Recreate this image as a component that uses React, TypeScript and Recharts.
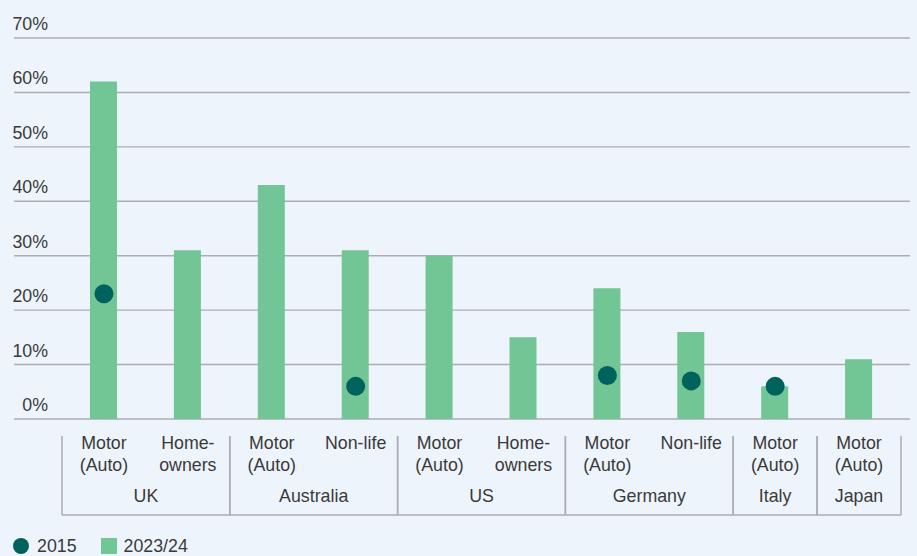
import { ComposedChart, Bar, Line, XAxis, YAxis, CartesianGrid } from 'recharts'

const lines1 = ['Motor', 'Home-', 'Motor', 'Non-life', 'Motor', 'Home-', 'Motor', 'Non-life', 'Motor', 'Motor']
const lines2 = ['(Auto)', 'owners', '(Auto)', '', '(Auto)', 'owners', '(Auto)', '', '(Auto)', '(Auto)']
const countries = ['UK', 'UK', 'Australia', 'Australia', 'US', 'US', 'Germany', 'Germany', 'Italy', 'Japan']
const share2023 = [62, 31, 43, 31, 30, 15, 24, 16, 6, 11]
const share2015: (number | null)[] = [23, null, null, 6, null, null, 8, 7, 6, null]
const yTicks = [0, 10, 20, 30, 40, 50, 60, 70]

const W = 917
const H = 530
const M = { top: 38, right: 7, left: 14, bottom: 0 }
const PAD = { left: 48, right: 9 }
const BAND = (W - M.left - M.right - PAD.left - PAD.right) / share2023.length

const BAR = '#72c594'
const DOT = '#00625d'
const BG = '#eef4fc'
const LINE = '#abadb4'
const TEXT = '#3a3a3a'
const FONT = '"Liberation Sans", Arial, sans-serif'
const FS = 17.8

const data = share2023.map((v, i) => ({
  key: `${countries[i]}-${i}`,
  y2023: v,
  y2015: share2015[i],
}))

function XTick({ x, y, payload }: any) {
  const i = payload.index ?? data.findIndex(d => d.key === payload.value)
  const c = countries[i]
  const first = i === 0 || countries[i - 1] !== c
  let size = 1
  while (first && countries[i + size] === c) size++
  const x0 = x - BAND / 2
  const x1 = x0 + size * BAND
  return (
    <g>
      <text x={x} y={y + 30} textAnchor="middle" fill={TEXT} fontSize={FS} fontFamily={FONT}>
        {lines1[i]}
      </text>
      <text x={x} y={y + 52} textAnchor="middle" fill={TEXT} fontSize={FS} fontFamily={FONT}>
        {lines2[i]}
      </text>
      {first && (
        <g>
          <line x1={x0} x2={x0} y1={y + 17} y2={y + 96} stroke={LINE} strokeWidth={1.5} />
          <line x1={x1} x2={x1} y1={y + 17} y2={y + 96} stroke={LINE} strokeWidth={1.5} />
          <line x1={x0} x2={x1} y1={y + 96} y2={y + 96} stroke={LINE} strokeWidth={1.5} />
          <text x={(x0 + x1) / 2} y={y + 83} textAnchor="middle" fill={TEXT} fontSize={FS} fontFamily={FONT}>
            {c}
          </text>
        </g>
      )}
    </g>
  )
}

function Dot({ cx, cy, value, index }: any) {
  if (value == null || cy == null) return <g key={`d${index}`} />
  return <circle key={`d${index}`} cx={cx} cy={cy} r={9.5} fill={DOT} />
}

export default function App() {
  return (
    <div style={{ position: 'absolute', left: 0, top: 0, width: W, height: 556, background: BG, fontFamily: FONT }}>
      <ComposedChart width={W} height={H} data={data} margin={M}>
        <CartesianGrid vertical={false} stroke={LINE} strokeWidth={1.4} />
        <XAxis
          dataKey="key"
          interval={0}
          padding={PAD}
          height={111}
          axisLine={false}
          tickLine={false}
          tickSize={0}
          tickMargin={0}
          tick={<XTick />}
        />
        <YAxis
          domain={[0, 70]}
          ticks={yTicks}
          width={1}
          mirror
          axisLine={false}
          tickLine={false}
          tickSize={0}
          tickMargin={0}
          tick={(p: any) => (
            <text key={p.index} x={p.x + 34} y={p.y - 8} textAnchor="end" fill={TEXT} fontSize={FS} fontFamily={FONT}>
              {p.payload.value}%
            </text>
          )}
        />
        <Bar dataKey="y2023" fill={BAR} barSize={27} isAnimationActive={false} />
        <Line dataKey="y2015" stroke="none" dot={<Dot />} activeDot={false} isAnimationActive={false} />
      </ComposedChart>
      <div style={{ position: 'absolute', left: 13, top: 538, display: 'flex', alignItems: 'center', color: TEXT, fontSize: FS, lineHeight: '16px' }}>
        <span style={{ width: 16, height: 16, borderRadius: 8, background: DOT, display: 'inline-block' }} />
        <span style={{ marginLeft: 8 }}>2015</span>
        <span style={{ width: 16, height: 16, background: BAR, display: 'inline-block', marginLeft: 24 }} />
        <span style={{ marginLeft: 7 }}>2023/24</span>
      </div>
    </div>
  )
}
